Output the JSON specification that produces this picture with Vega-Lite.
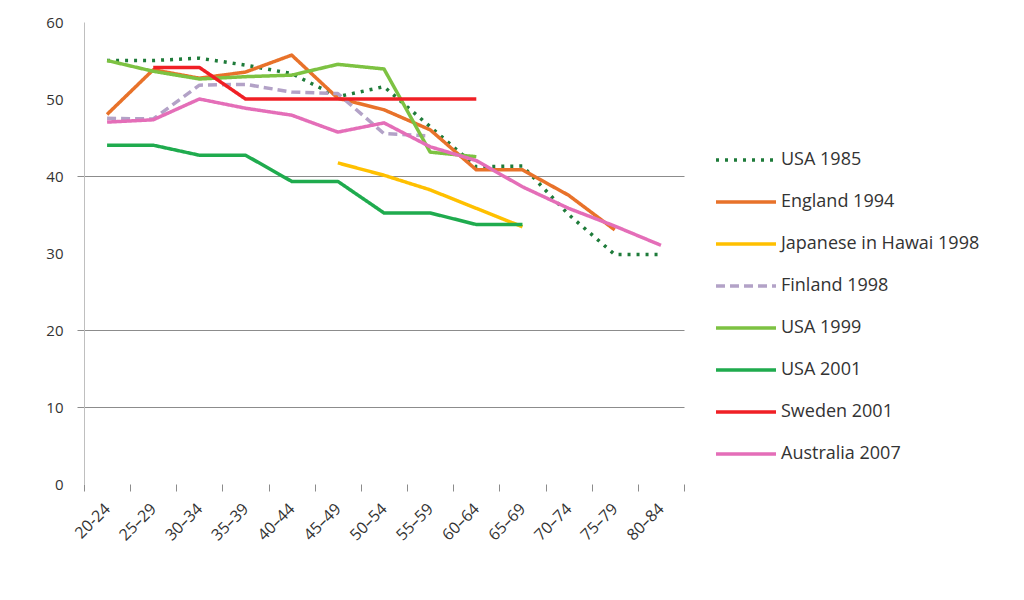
{
  "$schema": "https://vega.github.io/schema/vega-lite/v6.json",
  "width": 600,
  "height": 462,
  "autosize": {"type": "none"},
  "padding": {"left": 84, "top": 22, "right": 340, "bottom": 116},
  "background": "white",
  "config": {"view": {"stroke": null}, "font": "Open Sans"},
  "data": {
    "values": [
      {"series": "USA 1985", "age": "20-24", "value": 55},
      {"series": "USA 1985", "age": "25–29", "value": 55},
      {"series": "USA 1985", "age": "30–34", "value": 55.3},
      {"series": "USA 1985", "age": "35–39", "value": 54.4},
      {"series": "USA 1985", "age": "40–44", "value": 53.3},
      {"series": "USA 1985", "age": "45–49", "value": 50.3},
      {"series": "USA 1985", "age": "50–54", "value": 51.6},
      {"series": "USA 1985", "age": "55–59", "value": 46.4},
      {"series": "USA 1985", "age": "60–64", "value": 41.2},
      {"series": "USA 1985", "age": "65–69", "value": 41.3},
      {"series": "USA 1985", "age": "70–74", "value": 35},
      {"series": "USA 1985", "age": "75–79", "value": 29.8},
      {"series": "USA 1985", "age": "80–84", "value": 29.8},
      {"series": "England 1994", "age": "20-24", "value": 48},
      {"series": "England 1994", "age": "25–29", "value": 53.8},
      {"series": "England 1994", "age": "30–34", "value": 52.7},
      {"series": "England 1994", "age": "35–39", "value": 53.5},
      {"series": "England 1994", "age": "40–44", "value": 55.7},
      {"series": "England 1994", "age": "45–49", "value": 50.1},
      {"series": "England 1994", "age": "50–54", "value": 48.6},
      {"series": "England 1994", "age": "55–59", "value": 46},
      {"series": "England 1994", "age": "60–64", "value": 40.8},
      {"series": "England 1994", "age": "65–69", "value": 40.8},
      {"series": "England 1994", "age": "70–74", "value": 37.5},
      {"series": "England 1994", "age": "75–79", "value": 33},
      {"series": "Japanese in Hawai 1998", "age": "45–49", "value": 41.7},
      {"series": "Japanese in Hawai 1998", "age": "50–54", "value": 40.1},
      {"series": "Japanese in Hawai 1998", "age": "55–59", "value": 38.2},
      {"series": "Japanese in Hawai 1998", "age": "60–64", "value": 35.8},
      {"series": "Japanese in Hawai 1998", "age": "65–69", "value": 33.4},
      {"series": "Finland 1998", "age": "20-24", "value": 47.5},
      {"series": "Finland 1998", "age": "25–29", "value": 47.4},
      {"series": "Finland 1998", "age": "30–34", "value": 51.8},
      {"series": "Finland 1998", "age": "35–39", "value": 51.9},
      {"series": "Finland 1998", "age": "40–44", "value": 50.9},
      {"series": "Finland 1998", "age": "45–49", "value": 50.7},
      {"series": "Finland 1998", "age": "50–54", "value": 45.5},
      {"series": "Finland 1998", "age": "55–59", "value": 45.2},
      {"series": "USA 1999", "age": "20-24", "value": 55},
      {"series": "USA 1999", "age": "25–29", "value": 53.6},
      {"series": "USA 1999", "age": "30–34", "value": 52.6},
      {"series": "USA 1999", "age": "35–39", "value": 52.9},
      {"series": "USA 1999", "age": "40–44", "value": 53.1},
      {"series": "USA 1999", "age": "45–49", "value": 54.5},
      {"series": "USA 1999", "age": "50–54", "value": 53.9},
      {"series": "USA 1999", "age": "55–59", "value": 43.1},
      {"series": "USA 1999", "age": "60–64", "value": 42.5},
      {"series": "USA 2001", "age": "20-24", "value": 44},
      {"series": "USA 2001", "age": "25–29", "value": 44},
      {"series": "USA 2001", "age": "30–34", "value": 42.7},
      {"series": "USA 2001", "age": "35–39", "value": 42.7},
      {"series": "USA 2001", "age": "40–44", "value": 39.3},
      {"series": "USA 2001", "age": "45–49", "value": 39.3},
      {"series": "USA 2001", "age": "50–54", "value": 35.2},
      {"series": "USA 2001", "age": "55–59", "value": 35.2},
      {"series": "USA 2001", "age": "60–64", "value": 33.7},
      {"series": "USA 2001", "age": "65–69", "value": 33.7},
      {"series": "Sweden 2001", "age": "25–29", "value": 54.1},
      {"series": "Sweden 2001", "age": "30–34", "value": 54.1},
      {"series": "Sweden 2001", "age": "35–39", "value": 50},
      {"series": "Sweden 2001", "age": "40–44", "value": 50},
      {"series": "Sweden 2001", "age": "45–49", "value": 50},
      {"series": "Sweden 2001", "age": "50–54", "value": 50},
      {"series": "Sweden 2001", "age": "55–59", "value": 50},
      {"series": "Sweden 2001", "age": "60–64", "value": 50},
      {"series": "Australia 2007", "age": "20-24", "value": 47},
      {"series": "Australia 2007", "age": "25–29", "value": 47.3},
      {"series": "Australia 2007", "age": "30–34", "value": 50},
      {"series": "Australia 2007", "age": "35–39", "value": 48.8},
      {"series": "Australia 2007", "age": "40–44", "value": 47.9},
      {"series": "Australia 2007", "age": "45–49", "value": 45.7},
      {"series": "Australia 2007", "age": "50–54", "value": 46.9},
      {"series": "Australia 2007", "age": "55–59", "value": 43.8},
      {"series": "Australia 2007", "age": "60–64", "value": 42},
      {"series": "Australia 2007", "age": "65–69", "value": 38.6},
      {"series": "Australia 2007", "age": "70–74", "value": 35.8},
      {"series": "Australia 2007", "age": "75–79", "value": 33.5},
      {"series": "Australia 2007", "age": "80–84", "value": 31}
    ]
  },
  "mark": {"type": "line", "strokeJoin": "round"},
  "encoding": {
    "x": {
      "field": "age",
      "type": "ordinal",
      "sort": null,
      "bandPosition": 0.5,
      "scale": {
        "type": "band",
        "paddingInner": 0,
        "paddingOuter": 0,
        "domain": ["20-24", "25–29", "30–34", "35–39", "40–44", "45–49", "50–54", "55–59", "60–64", "65–69", "70–74", "75–79", "80–84"]
      },
      "axis": {
        "title": null,
        "tickBand": "extent",
        "domain": false,
        "grid": false,
        "labelAngle": -45,
        "labelAlign": "right",
        "labelBaseline": "middle",
        "tickSize": 7,
        "tickColor": "#8c8c8c",
        "labelPadding": 15,
        "labelFontSize": 16,
        "labelColor": "#333333"
      }
    },
    "y": {
      "field": "value",
      "type": "quantitative",
      "scale": {"domain": [0, 60], "nice": false},
      "axis": {
        "title": null,
        "values": [0, 10, 20, 30, 40, 50, 60],
        "grid": true,
        "gridColor": {"condition": {"test": "datum.value === 10 || datum.value === 20 || datum.value === 40", "value": "#8c8c8c"}, "value": "transparent"},
        "tickColor": {"condition": {"test": "datum.value === 10 || datum.value === 20 || datum.value === 40", "value": "#8c8c8c"}, "value": "transparent"},
        "tickSize": 7,
        "domainColor": "#bfbfbf",
        "labelPadding": 14,
        "labelFontSize": 15,
        "labelColor": "#333333"
      }
    },
    "color": {
      "field": "series",
      "type": "nominal",
      "scale": {
        "domain": ["USA 1985", "England 1994", "Japanese in Hawai 1998", "Finland 1998", "USA 1999", "USA 2001", "Sweden 2001", "Australia 2007"],
        "range": ["#1e7b3a", "#e8722a", "#ffc000", "#b3a2c7", "#7dc242", "#1fab4e", "#f01f25", "#e46eb8"]
      },
      "legend": {
        "title": null,
        "orient": "none",
        "legendX": 630,
        "legendY": 106,
        "symbolType": "stroke",
        "symbolSize": 3600,
        "labelFontSize": 18,
        "labelColor": "#333333",
        "labelOffset": 3,
        "labelLimit": 320,
        "rowPadding": 1
      }
    },
    "strokeDash": {
      "field": "series",
      "type": "nominal",
      "scale": {
        "domain": ["USA 1985", "England 1994", "Japanese in Hawai 1998", "Finland 1998", "USA 1999", "USA 2001", "Sweden 2001", "Australia 2007"],
        "range": [[3, 6], [1, 0], [1, 0], [9, 5], [1, 0], [1, 0], [1, 0], [1, 0]]
      }
    },
    "strokeWidth": {
      "field": "series",
      "type": "ordinal",
      "scale": {
        "domain": ["USA 1985", "England 1994", "Japanese in Hawai 1998", "Finland 1998", "USA 1999", "USA 2001", "Sweden 2001", "Australia 2007"],
        "range": [3.5, 3.5, 3.5, 3, 3, 4, 3, 3]
      }
    }
  }
}
